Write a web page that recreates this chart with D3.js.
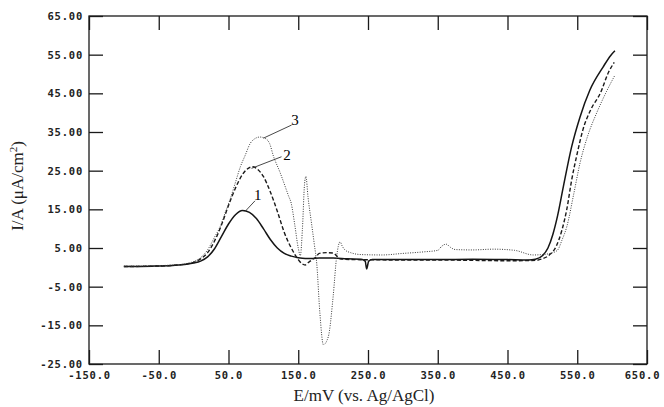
<!DOCTYPE html>
<html>
<head>
<meta charset="utf-8">
<script src="https://cdn.jsdelivr.net/npm/d3@7"></script>
<style>
  html, body { margin: 0; padding: 0; background: #fff; }
  svg { display: block; }
</style>
</head>
<body>
<svg id="chart" width="664" height="407"></svg>
<script>
// ---- Data (E in mV vs Ag/AgCl, I in µA/cm²) ----
const e1 = [-100,-60,-30,-10,0,10,20,30,40,50,60,70,80,90,100,110,120,130,140,150,160,170,180,200,220,240,246,248,251,256,300,350,400,450,480,490,500,508,515,522,530,542,554,568,587,598,604];
const i1 = [0.2,0.3,0.5,0.8,1.1,1.6,2.7,4.8,8.0,11.2,13.6,14.7,14.2,12.6,10.0,7.2,5.0,3.6,2.9,2.5,2.3,2.3,2.4,2.4,2.2,2.1,1.6,-0.4,1.6,2.0,2.0,2.0,2.1,2.0,1.9,2.1,3.0,5.0,8.5,13.5,20.8,31.2,38.9,45.8,51.8,54.8,56.0];

const e2 = [-100,-60,-30,-10,0,10,20,30,40,50,60,70,80,85,90,100,110,120,130,140,150,155,160,165,170,175,180,190,200,205,210,230,300,350,400,450,490,500,510,520,528,535,542,550,558,570,583,595,603];
const i2 = [0.2,0.3,0.5,0.9,1.3,2.2,3.8,6.8,11.0,16.0,20.5,24.0,25.8,26.0,25.6,23.5,19.5,14.5,9.0,5.0,2.0,1.0,0.6,1.3,2.0,2.6,3.6,3.8,3.7,3.0,2.2,2.0,1.9,1.9,1.8,1.7,1.8,2.2,3.2,5.5,9.6,15.0,22.6,29.5,35.5,41.0,45.0,50.5,53.0];

const e3 = [-100,-60,-30,-10,0,10,20,30,38,45,52,60,67,74,81,88,95,102,109,114,124,136,140,145,150,153,156,159,161,164,169,173,176.5,181,186,193,200,205,210,213,217,225,240,270,300,330,350,356,362,368,375,400,430,460,487,500,515,522,528,535,545,554,565,578,592,604];
const i3 = [0.3,0.4,0.6,1.0,1.5,2.5,4.5,7.8,10.5,14.0,17.4,22.0,26.0,29.0,32.0,33.3,33.7,33.4,32.0,29.0,24.5,18.5,16.5,11.0,5.0,3.0,10.0,21.5,23.5,18.2,11.4,6.0,1.0,-11.8,-20.0,-18.0,-7.6,2.7,6.6,5.5,4.5,3.8,3.3,3.2,3.6,4.0,4.4,5.5,6.0,5.2,4.6,4.5,4.7,4.4,3.2,3.3,3.8,4.5,7.0,10.5,19.0,27.0,34.0,40.0,45.5,49.7];

const xTicks = [-150,-50,50,150,250,350,450,550,650];
const yTicks = [65,55,45,35,25,15,5,-5,-15,-25];

const curveLabels = ["1","2","3"];
// label text position and leader-line endpoints, in data units
const labelAt   = [[92,18.7],[134,29],[145.5,38.2]];
const leaderFrom = [[74,14.5],[83,25.6],[100,33.4]];
const leaderTo   = [[88,17.2],[126,28.6],[140.5,36.8]];

// ---- Chart ----
const svg = d3.select("#chart");
const x = d3.scaleLinear().domain([-150,650]).range([89,647]);
const y = d3.scaleLinear().domain([-25,65]).range([364,16]);

const ink = "#1a1a1a";
const tickFont = "'DejaVu Sans Mono', monospace";

// frame
svg.append("rect")
  .attr("x", x(-150)).attr("y", y(65))
  .attr("width", x(650)-x(-150)).attr("height", y(-25)-y(65))
  .attr("fill","none").attr("stroke", ink).attr("stroke-width",1.3);

function styleAxis(g){
  g.select(".domain").remove();
  g.selectAll(".tick line").attr("stroke", ink).attr("stroke-width",1.3);
  g.selectAll(".tick text")
    .attr("fill","#222")
    .style("font-family", tickFont)
    .style("font-weight","bold")
    .style("font-size","10.5px")
    .style("letter-spacing","0.8px");
}

svg.append("g").attr("transform",`translate(${x(-150)},0)`)
  .call(d3.axisLeft(y).tickValues(yTicks).tickSizeInner(-14).tickSizeOuter(0).tickPadding(6)
    .tickFormat(d => d.toFixed(2)))
  .call(styleAxis);

const bx = svg.append("g").attr("transform",`translate(0,${y(-25)})`)
  .call(d3.axisBottom(x).tickValues(xTicks).tickSizeInner(-14).tickSizeOuter(0).tickPadding(8)
    .tickFormat(d => d.toFixed(1)))
  .call(styleAxis);
// keep the last label inside the page
bx.selectAll(".tick text").filter(d => d === 650).attr("dx", -5);

svg.append("g").attr("transform",`translate(0,${y(65)})`)
  .call(d3.axisTop(x).tickValues(xTicks).tickSizeInner(-14).tickSizeOuter(0).tickFormat(""))
  .call(styleAxis);

svg.append("g").attr("transform",`translate(${x(650)},0)`)
  .call(d3.axisRight(y).tickValues(yTicks).tickSizeInner(-14).tickSizeOuter(0).tickFormat(""))
  .call(styleAxis);

// curves
const line = d3.line().x(d => x(d[0])).y(d => y(d[1])).curve(d3.curveMonotoneX);
const series = [
  {e:e1, i:i1, dash:null, w:1.5, c:"#151515"},
  {e:e2, i:i2, dash:"4,2.2", w:1.4, c:"#1a1a1a"},
  {e:e3, i:i3, dash:"1,1.4", w:1.0, c:"#3a3a3a"}
];
series.forEach(s => {
  svg.append("path")
    .datum(s.e.map((v,k) => [v, s.i[k]]))
    .attr("d", line)
    .attr("fill","none")
    .attr("stroke", s.c)
    .attr("stroke-width", s.w)
    .attr("stroke-dasharray", s.dash)
    .attr("stroke-linejoin","round");
});

// curve labels with leader lines
curveLabels.forEach((t,k) => {
  svg.append("line")
    .attr("x1", x(leaderFrom[k][0])).attr("y1", y(leaderFrom[k][1]))
    .attr("x2", x(leaderTo[k][0])).attr("y2", y(leaderTo[k][1]))
    .attr("stroke", "#333").attr("stroke-width", 0.9);
  svg.append("text")
    .attr("x", x(labelAt[k][0])).attr("y", y(labelAt[k][1]))
    .attr("text-anchor","middle").attr("dominant-baseline","central")
    .style("font-family","'Liberation Serif', serif").style("font-size","15px")
    .attr("fill","#000").text(t);
});

// axis titles
svg.append("text")
  .attr("x", 364).attr("y", 401)
  .attr("text-anchor","middle")
  .style("font-family","'Liberation Serif', serif").style("font-size","17px")
  .attr("fill","#222")
  .text("E/mV (vs. Ag/AgCl)");

const yt = svg.append("text")
  .attr("transform","translate(23,186) rotate(-90)")
  .attr("text-anchor","middle")
  .style("font-family","'Liberation Serif', serif").style("font-size","17px")
  .attr("fill","#222");
yt.append("tspan").text("I/A (μA/cm");
yt.append("tspan").attr("dy","-6").style("font-size","11px").text("2");
yt.append("tspan").attr("dy","6").text(")");
</script>
</body>
</html>
